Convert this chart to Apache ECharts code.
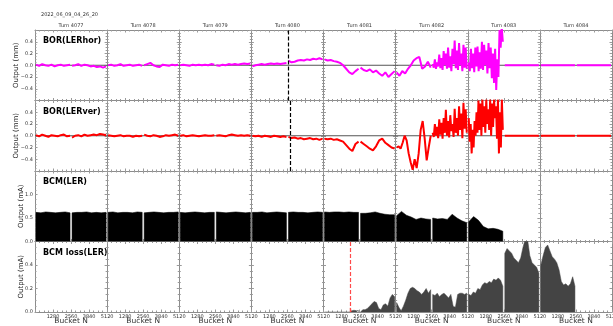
<!DOCTYPE html>
<html><head><meta charset="utf-8">
<script src="https://cdn.jsdelivr.net/npm/echarts@6/dist/echarts.min.js"></script>
<style>html,body{margin:0;padding:0;background:#fff}#c{width:613px;height:326px}</style>
</head><body><div id="c"></div>
<script>
// ---------------- data ----------------
const turns = ['Turn 4077','Turn 4078','Turn 4079','Turn 4080','Turn 4081','Turn 4082','Turn 4083','Turn 4084'];
const bucketsPerTurn = 5120;
const bucketTickStep = 1280;
const dateLabel = '2022_06_09_04_26_20';
const panelTitles = ['BOR(LERhor)','BOR(LERver)','BCM(LER)','BCM loss(LER)'];
const yNames = ['Output (mm)','Output (mm)','Output (mA)','Output (mA)'];

// values per half-turn (16 halves), sampled evenly inside each half
const borHorHalves = [
  [0.01,-0.01,0.02,0.0,-0.01,0.01,-0.02,0.0,0.01,-0.01,0.0,0.01],
  [-0.01,0.0,0.02,-0.01,0.01,0.0,-0.02,-0.01,-0.03,-0.02,-0.04,-0.02],
  [0.0,0.01,-0.01,0.0,0.02,-0.01,0.0,0.01,-0.01,0.0,0.01,-0.01],
  [0.0,0.02,0.04,0.0,-0.02,-0.03,0.01,0.0,-0.01,0.01,0.0,0.01],
  [0.0,0.01,0.0,-0.01,0.01,0.0,0.01,0.0,0.01,0.0,0.02,0.01],
  [0.0,-0.01,0.01,0.0,0.02,0.01,0.02,0.01,0.02,0.03,0.02,0.03],
  [-0.02,0.0,0.01,0.02,0.01,0.02,0.03,0.02,0.03,0.02,0.03,0.04],
  [0.08,0.05,0.06,0.08,0.09,0.08,0.1,0.09,0.11,0.1,0.12,0.1],
  [0.1,0.08,0.09,0.07,0.06,0.04,0.0,-0.06,-0.12,-0.15,-0.1,-0.06],
  [-0.04,-0.08,-0.1,-0.07,-0.12,-0.09,-0.14,-0.18,-0.12,-0.2,-0.15,-0.1],
  [-0.12,-0.18,-0.1,-0.14,-0.06,0.0,0.08,0.12,0.14,-0.06,-0.02,0.06,-0.04],
  [0.02,-0.04,0.1,-0.06,0.05,-0.02,0.18,-0.05,0.12,-0.08,0.24,0.0,0.2,-0.06,0.3,-0.04,0.15,-0.1,0.28,0.02,0.42,-0.05,0.25,-0.08,0.38,0.0,0.2,-0.1,0.35,-0.04,0.3,-0.06],
  [0.05,-0.1,0.28,-0.05,0.2,-0.12,0.3,-0.02,0.32,-0.1,0.22,-0.06,0.4,-0.08,0.35,0.0,0.25,-0.14,0.38,-0.05,0.3,-0.22,0.2,-0.3,0.28,-0.42,0.1,-0.2,0.6,0.3,0.65,0.4],
  [0,0],[0,0],[0,0]
];
const borVerHalves = [
  [0.01,-0.01,0.02,0.0,-0.02,0.01,0.0,-0.01,0.01,0.02,-0.01,0.0],
  [-0.03,0.0,0.01,-0.01,0.02,0.0,0.01,0.02,0.01,0.03,0.02,0.01],
  [0.01,0.0,-0.01,0.0,0.01,-0.01,0.0,0.0,-0.02,0.0,-0.01,0.0],
  [0.02,0.0,-0.01,0.01,0.0,-0.02,-0.01,0.01,0.0,0.01,0.02,0.0],
  [0.0,0.01,-0.01,0.0,0.01,0.0,-0.01,0.0,0.01,0.0,0.0,0.01],
  [0.0,0.01,0.0,-0.01,0.01,0.02,0.01,0.0,0.01,0.0,0.01,0.0],
  [0.0,-0.01,0.0,-0.02,0.0,-0.01,-0.02,0.0,-0.01,-0.02,-0.01,-0.02],
  [-0.02,-0.04,-0.03,-0.05,-0.04,-0.06,-0.05,-0.04,-0.06,-0.05,-0.07,-0.05],
  [-0.05,-0.06,-0.05,-0.07,-0.06,-0.08,-0.1,-0.16,-0.22,-0.26,-0.14,-0.1],
  [-0.1,-0.14,-0.18,-0.22,-0.25,-0.18,-0.08,-0.05,-0.12,-0.16,-0.2,-0.22],
  [-0.2,-0.18,-0.22,-0.12,0.0,-0.08,-0.3,-0.45,-0.58,-0.4,-0.55,-0.3,0.1,0.25,-0.05,-0.42,-0.2,0.0],
  [0.05,-0.02,0.2,0.0,0.15,-0.04,0.28,0.02,0.22,-0.05,0.3,0.05,0.44,0.0,0.25,-0.03,0.35,0.08,0.2,-0.02,0.46,0.05,0.3,0.0,0.5,0.1,0.38,-0.04,0.56,0.12,0.45,0.05],
  [0.3,-0.1,0.2,-0.3,0.1,-0.2,0.25,0.0,0.4,0.05,0.6,0.1,0.55,0.0,0.62,0.15,0.5,0.05,0.62,0.2,0.45,0.1,0.62,0.0,0.55,0.15,0.62,0.3,0.5,-0.05,0.62,-0.3,0.4,-0.2,0.62,0.1],
  [0,0],[0,0],[0,0]
];
const bcmHalves = [
  [0.62,0.61,0.63,0.62,0.61,0.62,0.63,0.61],
  [0.61,0.62,0.62,0.63,0.61,0.62,0.61,0.62],
  [0.62,0.63,0.61,0.62,0.62,0.61,0.63,0.62],
  [0.61,0.62,0.63,0.62,0.61,0.62,0.62,0.63],
  [0.62,0.61,0.62,0.63,0.62,0.61,0.62,0.62],
  [0.63,0.62,0.61,0.62,0.63,0.62,0.61,0.62],
  [0.62,0.62,0.63,0.61,0.62,0.63,0.62,0.61],
  [0.62,0.63,0.62,0.62,0.61,0.62,0.63,0.62],
  [0.63,0.62,0.63,0.63,0.62,0.63,0.62,0.62],
  [0.6,0.6,0.61,0.63,0.6,0.58,0.57,0.57],
  [0.55,0.64,0.56,0.52,0.47,0.5,0.48,0.47],
  [0.5,0.48,0.49,0.47,0.58,0.5,0.44,0.4],
  [0.42,0.53,0.45,0.32,0.27,0.28,0.26,0.22],
  [],[],[]
];
const bcmLossHalves = [
  [],[],[],[],[],[],[],[],
  [0,0,0,0,0,0,0,0,0,0,0,0,0.01,0.015,0.01,0.012],
  [0.015,0.02,0.02,0.03,0.05,0.07,0.09,0.08,0.03,0.02,0.06,0.07,0.05,0.12,0.15,0.13],
  [0.08,0.04,0.01,0.05,0.1,0.16,0.2,0.21,0.2,0.18,0.17,0.15,0.17,0.2,0.16,0.19],
  [0.15,0.14,0.16,0.13,0.15,0.16,0.14,0.12,0.15,0.05,0.04,0.15,0.16,0.16,0.15,0.16],
  [0.15,0.14,0.17,0.16,0.2,0.19,0.23,0.25,0.24,0.26,0.25,0.28,0.27,0.29,0.27,0.22],
  [0.5,0.54,0.52,0.5,0.46,0.44,0.42,0.46,0.55,0.62,0.62,0.48,0.42,0.4,0.38,0.33],
  [0.4,0.48,0.55,0.57,0.52,0.47,0.45,0.42,0.36,0.26,0.23,0.24,0.22,0.24,0.3,0.22],
  []
];
const lossMarkerBuckets = [22380, 22460];
const lossMarkerValue = 0.035;
const horEventBucket = 17980;
const verEventBucket = 18120;
const lossEventBucket = 22393;

// ---------------- layout ----------------
const LEFT = 35, RIGHT = 1, PLOT_W = 613 - LEFT - RIGHT, TURN_W = PLOT_W / 8;
const panelTops = [30, 100.5, 171, 241.5], PANEL_H = 70.5;
const XMAX = bucketsPerTurn * 8, HALF = bucketsPerTurn / 2, GAP = 70;
const panels = [
  {min:-0.6,max:0.6,interval:0.2,labelMax:0.41,minor:4,nameGap:15.5},
  {min:-0.6,max:0.6,interval:0.2,labelMax:0.41,minor:4,nameGap:15.5},
  {min:0,max:1.5,interval:0.5,labelMax:1.01,minor:5,nameGap:10.5},
  {min:0,max:0.6,interval:0.2,labelMax:0.41,minor:4,nameGap:10.5}
];
const FONT = 'DejaVu Sans';
const LINE_C = '#8c8c8c', TICK_C = '#9a9a9a';

function halfXs(h, n){
  const s = h*HALF + GAP, e = (h+1)*HALF - GAP;
  return Array.from({length:n}, (_, i) => n === 1 ? (s+e)/2 : s + i*(e-s)/(n-1));
}
function lineData(halves){
  const out = [];
  halves.forEach((vals, h) => {
    if (!vals.length) return;
    const xs = halfXs(h, vals.length);
    xs.forEach((x, i) => out.push([x, vals[i]]));
    out.push([(h+1)*HALF, '-']);
  });
  return out;
}
function areaData(halves){
  const out = [];
  halves.forEach((vals, h) => {
    if (!vals.length) return;
    const xs = halfXs(h, vals.length);
    out.push([xs[0], 0]);
    xs.forEach((x, i) => out.push([x, vals[i]]));
    out.push([xs[xs.length-1], 0]);
    out.push([(h+1)*HALF, '-']);
  });
  return out;
}

const grids = panelTops.map(t => ({left: LEFT, right: RIGHT, top: t, height: PANEL_H, outerBoundsMode: 'none', containLabel: false}));

const xAxes = [];
panelTops.forEach((t, p) => {
  ['bottom','top'].forEach(pos => {
    xAxes.push({
      type:'value', gridIndex:p, position:pos, min:0, max:XMAX, interval:bucketTickStep,
      axisLine:{show:true, onZero:false, lineStyle:{color:LINE_C, width:1}},
      axisTick:{show:true, inside:true, length:2.5, lineStyle:{color:TICK_C}},
      minorTick:{show:true, splitNumber:4, length:1.5, lineStyle:{color:TICK_C}},
      splitLine:{show:false},
      axisLabel:{show: p === 3 && pos === 'bottom', fontSize:5, color:'#333', fontFamily:FONT, margin:2,
        formatter: v => v === 0 ? '' : String(((v - 1) % bucketsPerTurn) + 1)}
    });
  });
});
xAxes.push({
  type:'category', gridIndex:0, position:'top', data:turns, boundaryGap:true,
  axisLine:{show:false}, axisTick:{show:false}, splitLine:{show:false},
  axisLabel:{interval:0, fontSize:5, color:'#333', fontFamily:FONT, margin:1.5}
});
xAxes.push({
  type:'category', gridIndex:3, position:'bottom', data:turns.map(() => 'Bucket N'), boundaryGap:true,
  axisLine:{show:false}, axisTick:{show:false}, splitLine:{show:false},
  axisLabel:{interval:0, fontSize:7.5, color:'#333', fontFamily:FONT, margin:5.5}
});

const yAxes = [];
const yMain = [];
panels.forEach((cfg, p) => {
  const base = {type:'value', gridIndex:p, min:cfg.min, max:cfg.max, interval:cfg.interval,
    splitLine:{show:false},
    axisTick:{show:true, inside:true, length:2.5, lineStyle:{color:TICK_C}},
    minorTick:{show:true, splitNumber:cfg.minor, length:1.5, lineStyle:{color:TICK_C}}};
  yMain.push(yAxes.length);
  yAxes.push(Object.assign({}, base, {
    position:'left',
    axisLine:{show:true, onZero:false, lineStyle:{color:LINE_C}},
    axisLabel:{fontSize:5, color:'#333', fontFamily:FONT, margin:2,
      formatter: v => {
        if (Math.abs(v) > cfg.labelMax) return '';
        const s = Math.abs(v).toFixed(1);
        return v < -1e-9 ? '\u2212' + s : s;
      }},
    name: yNames[p], nameLocation:'middle', nameGap:cfg.nameGap, nameRotate:90, nameMoveOverlap:false,
    nameTextStyle:{fontSize:7, color:'#222', fontFamily:FONT}
  }));
  yAxes.push(Object.assign({}, base, {position:'right', axisLine:{show:true, onZero:false, lineStyle:{color:LINE_C}}, axisLabel:{show:false}}));
  for (let k = 1; k < 8; k++) {
    yAxes.push(Object.assign({}, base, {position:'left', offset:-k*TURN_W,
      axisLine:{show:true, onZero:false, lineStyle:{color:LINE_C}}, axisLabel:{show:false}}));
    yAxes.push(Object.assign({}, base, {position:'right', offset:-(8-k)*TURN_W,
      axisLine:{show:false, onZero:false}, axisLabel:{show:false}}));
  }
});

function zeroLine(p){
  return {type:'line', xAxisIndex:2*p, yAxisIndex:yMain[p], data:[[0,0],[XMAX,0]], symbol:'none', silent:true,
    lineStyle:{color:'#555', width:1}, z:1};
}
function vMark(bucket, color){
  return {silent:true, symbol:['none','none'], label:{show:false}, animation:false,
    lineStyle:{color:color, width:1.2, type:[4,2]}, data:[{xAxis:bucket}]};
}

const series = [
  zeroLine(0),
  {type:'line', xAxisIndex:0, yAxisIndex:yMain[0], data:lineData(borHorHalves), symbol:'none', connectNulls:false,
    lineStyle:{color:'#ff00ff', width:2}, z:2, markLine:vMark(horEventBucket, '#000')},
  zeroLine(1),
  {type:'line', xAxisIndex:2, yAxisIndex:yMain[1], data:lineData(borVerHalves), symbol:'none', connectNulls:false,
    lineStyle:{color:'#ff0000', width:2}, z:2, markLine:vMark(verEventBucket, '#000')},
  {type:'line', xAxisIndex:4, yAxisIndex:yMain[2], data:areaData(bcmHalves), symbol:'none', connectNulls:false,
    lineStyle:{color:'#000', width:0.5}, areaStyle:{color:'#000', opacity:1}},
  {type:'line', xAxisIndex:6, yAxisIndex:yMain[3], data:areaData(bcmLossHalves), symbol:'none', connectNulls:false,
    lineStyle:{color:'#444', width:0.5}, areaStyle:{color:'#444', opacity:1}, markLine:vMark(lossEventBucket, '#ff4a4a')},
  {type:'line', xAxisIndex:6, yAxisIndex:yMain[3], symbol:'none', lineStyle:{color:'#c0392b', width:0.5},
    areaStyle:{color:'#c0392b', opacity:1},
    data:[[lossMarkerBuckets[0],0],[lossMarkerBuckets[0],lossMarkerValue],[lossMarkerBuckets[1],lossMarkerValue],[lossMarkerBuckets[1],0]]}
];

const titleYs = [41, 111.7, 182.3, 253.3];
const graphic = [
  {type:'text', x:41, y:15, style:{text:dateLabel, fontSize:5, fontFamily:FONT, fill:'#333', verticalAlign:'middle'}}
].concat(panelTitles.map((t, i) => ({type:'text', x:43, y:titleYs[i],
  style:{text:t, fontSize:8, fontWeight:'bold', fontFamily:FONT, fill:'#000', verticalAlign:'middle'}})));

const chart = echarts.init(document.getElementById('c'), null, {renderer:'canvas'});
chart.setOption({animation:false, backgroundColor:'#fff', grid:grids, xAxis:xAxes, yAxis:yAxes, series:series, graphic:graphic});
</script></body></html>
